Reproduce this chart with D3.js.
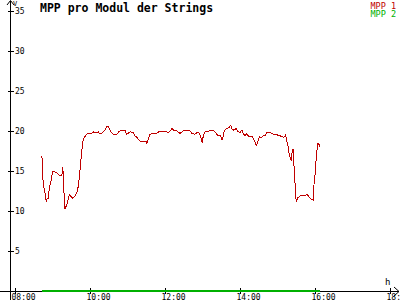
<!DOCTYPE html>
<html lang="de">
<head>
    <meta charset="UTF-8">
    <title>MPP pro Modul der Strings</title>
    <style>
        body { margin: 0; background: #fff; }
        text { font-family: "DejaVu Sans Mono", monospace; }
    </style>
</head>
<body>
<script src="https://d3js.org/d3.v7.min.js"></script>
<script>
    // MPP 1 readings (time of day, value)
    const mpp1Times = ["08:43","08:44","08:45","08:48","08:50","08:51","08:53","08:55","08:58","09:00",
        "09:04","09:08","09:12","09:15","09:16","09:17","09:19","09:20","09:23","09:25",
        "09:27","09:30","09:32","09:36","09:39","09:41","09:43","09:45","09:47","09:48",
        "09:50","09:54","09:57","10:03","10:06","10:10","10:13","10:16","10:19","10:24",
        "10:27","10:30","10:33","10:37","10:43","10:46","10:51","10:56","10:58","10:59",
        "11:04","11:09","11:12","11:15","11:20","11:25","11:30","11:31","11:33","11:36",
        "11:41","11:46","11:50","11:52","12:00","12:05","12:08","12:11","12:14","12:19",
        "12:24","12:29","12:35","12:40","12:43","12:48","12:51","12:54","12:57","12:59",
        "13:00","13:01","13:04","13:08","13:12","13:17","13:23","13:25","13:29","13:31",
        "13:33","13:35","13:39","13:42","13:45","13:47","13:49","13:54","13:57","14:00",
        "14:03","14:05","14:08","14:11","14:13","14:16","14:20","14:22","14:25","14:26",
        "14:28","14:31","14:34","14:37","14:41","14:43","14:48","14:51","14:54","14:56",
        "15:00","15:04","15:07","15:10","15:13","15:15","15:17","15:18","15:20","15:22",
        "15:23","15:25","15:26","15:28","15:29","15:30","15:31","15:33","15:37","15:41",
        "15:44","15:47","15:50","15:54","15:57","15:58","16:00","16:02","16:04","16:05",
        "16:07","16:08"];
    const mpp1Values = [16.9,15.8,13.5,12.3,11.1,11.5,11.6,12.9,13.9,14.9,
        14.9,14.7,14.4,14.4,15.5,14.9,11.2,10.3,10.8,11.4,
        12.0,11.8,11.6,11.9,12.3,13.0,14.3,16.0,17.6,18.5,
        19.1,19.5,19.75,19.75,19.9,19.75,19.9,19.6,19.75,20.1,
        20.6,20.5,19.9,19.6,19.6,19.9,20.1,20.1,19.7,19.6,
        19.9,19.8,19.4,19.2,18.75,18.75,18.75,18.5,18.9,19.6,
        19.7,19.7,19.9,20.0,20.0,19.8,20.0,20.3,20.1,20.0,
        19.7,20.0,20.1,20.0,19.7,19.6,19.8,19.8,19.3,18.7,
        18.6,19.3,19.9,19.9,20.1,20.1,19.6,19.4,19.4,18.9,
        19.3,20.1,20.3,20.4,20.7,20.3,20.1,20.3,19.9,19.8,
        20.1,19.7,19.4,19.7,19.4,19.3,19.3,18.9,18.5,18.2,
        18.5,19.3,19.2,19.4,19.5,19.8,19.8,19.7,19.6,19.6,
        19.5,19.4,19.3,19.2,19.5,18.7,18.1,17.4,16.8,16.2,
        17.2,17.8,16.2,13.5,12.2,11.1,11.4,11.7,11.9,12.0,
        11.9,12.1,11.8,11.5,11.4,13.0,14.5,16.6,18.25,18.5,
        18.25,18.0];

    // MPP 2 stays at zero over the same period
    const mpp2Times = ["08:43", "16:08"];
    const mpp2Values = [0, 0];

    const xTicks = ["08:00", "10:00", "12:00", "14:00", "16:00", "18:00"];
    const yTicks = [5, 10, 15, 20, 25, 30, 35];
    const seriesNames = ["MPP 1", "MPP 2"];
    const seriesColors = ["#c00000", "#00b000"];

    const width = 400, height = 300;
    const parse = d3.timeParse("%H:%M");

    const x = d3.scaleTime()
        .domain([parse("08:00"), parse("18:00")])
        .range([15, 390]);
    const y = d3.scaleLinear()
        .domain([0, 35])
        .range([291, 11]);

    const svg = d3.select('body').append('svg')
        .attr('width', width)
        .attr('height', height);

    svg.append('rect')
        .attr('width', width)
        .attr('height', height)
        .attr('fill', '#fff');

    // Lines
    const line = d3.line()
        .x(d => x(d.t))
        .y(d => y(d.v));

    const series = [
        mpp1Times.map((t, i) => ({ t: parse(t), v: mpp1Values[i] })),
        mpp2Times.map((t, i) => ({ t: parse(t), v: mpp2Values[i] }))
    ];

    // x axis
    const xAxis = svg.append('g')
        .attr('transform', `translate(0,${y(0)})`)
        .call(d3.axisBottom(x)
            .tickValues(xTicks.map(parse))
            .tickFormat(d3.timeFormat("%H:%M"))
            .tickSize(3)
            .tickPadding(1));
    xAxis.select('.domain').remove();
    xAxis.selectAll('.tick line').attr('y1', -3).attr('y2', 3).attr('stroke', '#000');
    xAxis.selectAll('.tick text')
        .attr('text-anchor', 'start')
        .attr('x', -4)
        .attr('y', 3)
        .attr('dy', '0.71em')
        .style('font-family', '"DejaVu Sans Mono", monospace')
        .style('font-size', '8px')
        .attr('fill', '#000');

    svg.append('line')
        .attr('x1', 0).attr('x2', 399)
        .attr('y1', y(0) + 0.5).attr('y2', y(0) + 0.5)
        .attr('stroke', '#000');
    svg.append('path')
        .attr('d', `M394,${y(0) - 4}L399,${y(0) + 0.5}L394,${y(0) + 5}`)
        .attr('fill', 'none')
        .attr('stroke', '#000');
    svg.append('text')
        .attr('x', 385).attr('y', 285)
        .style('font-size', '9px')
        .text('h');

    // y axis
    const yAxis = svg.append('g')
        .attr('transform', 'translate(11,0)')
        .call(d3.axisRight(y)
            .tickValues(yTicks)
            .tickSize(3)
            .tickPadding(1));
    yAxis.select('.domain').remove();
    yAxis.selectAll('.tick line').attr('x1', -3).attr('x2', 3).attr('stroke', '#000');
    yAxis.selectAll('.tick text')
        .attr('x', 4)
        .style('font-family', '"DejaVu Sans Mono", monospace')
        .style('font-size', '8px')
        .attr('fill', '#000');

    svg.append('line')
        .attr('x1', 10.5).attr('x2', 10.5)
        .attr('y1', 1).attr('y2', 300)
        .attr('stroke', '#000');
    svg.append('path')
        .attr('d', 'M7,5L10.5,0.5L14,5')
        .attr('fill', 'none')
        .attr('stroke', '#000');
    svg.append('text')
        .attr('x', 13).attr('y', 6)
        .style('font-size', '7px')
        .text('V');

    // series lines drawn on top of axis
    series.forEach((s, i) => {
        svg.append('path')
            .datum(s)
            .attr('d', line)
            .attr('fill', 'none')
            .attr('stroke', seriesColors[i])
            .attr('stroke-width', i === 1 ? 1.5 : 1)
            .attr('shape-rendering', 'crispEdges');
    });

    // Title
    svg.append('text')
        .attr('x', 40).attr('y', 12)
        .style('font-size', '11.5px')
        .style('font-weight', 'bold')
        .text('MPP pro Modul der Strings');

    // Legend
    svg.selectAll('.legend')
        .data(seriesNames)
        .enter().append('text')
        .attr('class', 'legend')
        .attr('x', 396)
        .attr('y', (d, i) => 9 + i * 8)
        .attr('text-anchor', 'end')
        .style('font-size', '8.5px')
        .attr('fill', (d, i) => seriesColors[i])
        .text(d => d);
</script>
</body>
</html>
